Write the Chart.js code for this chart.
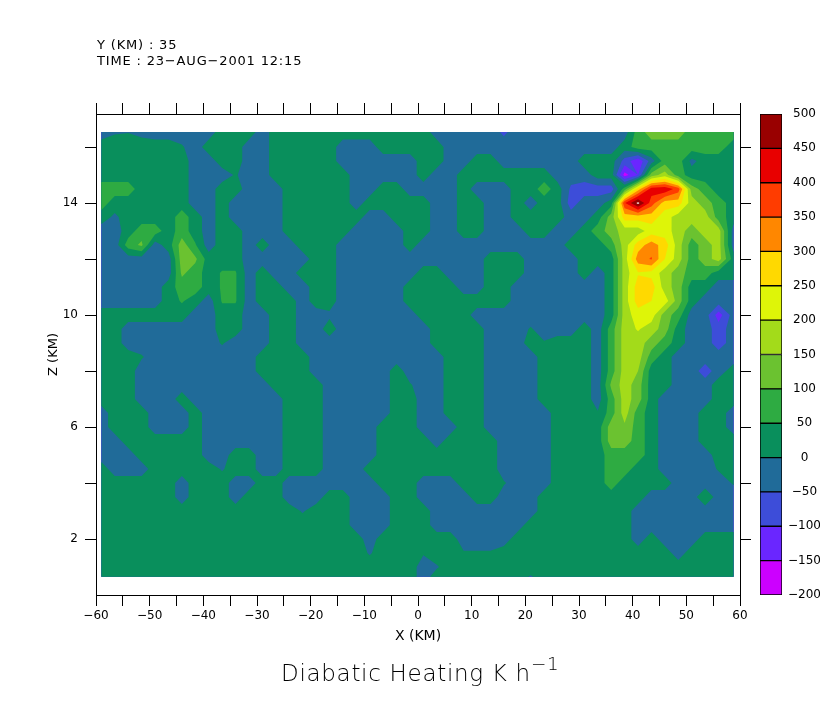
<!DOCTYPE html>
<html>
<head>
<meta charset="utf-8">
<title>Diabatic Heating</title>
<script src="https://cdn.jsdelivr.net/npm/chart.js@4"></script>
<style>
  html, body { margin: 0; padding: 0; background: #fff; overflow: hidden; }
  #page { position: relative; width: 820px; height: 709px; font-family: "DejaVu Sans", sans-serif; color: #000; }
  canvas { position: absolute; }
  .txt { position: absolute; white-space: nowrap; line-height: 1; }
  sup { font-size: 0.8em; line-height: 0; vertical-align: 0.6em; }
</style>
</head>
<body>
<div id="page">
  <canvas id="main" width="820" height="709" style="left:0;top:0"></canvas>
  <canvas id="bar" width="68" height="510" style="left:752px;top:100px"></canvas>
  <div class="txt" style="left:97px;top:38px;font-size:13px;letter-spacing:0.83px">Y (KM) : 35</div>
  <div class="txt" style="left:97px;top:54px;font-size:13px;letter-spacing:0.83px">TIME : 23−AUG−2001 12:15</div>
  <div class="txt" style="left:281px;top:662px;font-size:23px;letter-spacing:0.7px;font-weight:200">Diabatic Heating K h<sup>−1</sup></div>
</div>
<script>
const xKm = [-59,-56.5,-54,-51.5,-49,-46.5,-44,-41.5,-39,-36.5,-34,-31.5,-29,-26.5,-24,-21.5,-19,-16.5,-14,-11.5,-9,-6.5,-4,-1.5,1,3.5,6,8.5,11,13.5,16,18.5,21,23.5,26,28.5,31,33.5,36,38.5,41,43.5,46,48.5,51,53.5,56,58.8];
const zKm = [16.54,16,15.5,15,14.5,14,13.5,13,12.5,12,11.5,11,10.5,10,9.5,9,8.5,8,7.5,7,6.5,6,5.5,5,4.5,4,3.5,3,2.5,2,1.5,1,0.65];
const levels = [-200,-150,-100,-50,0,50,100,150,200,250,300,350,400,450,500];
const bandColors = ['#cc00ff','#6a26ff','#3d4dd9','#206b99','#098f5c','#2eab42','#6bc230','#a3db1a','#def508','#ffd900','#ff8700','#ff3c00','#e80000','#990000','#ffffff'];
const xTickLabels = [-60,-50,-40,-30,-20,-10,0,10,20,30,40,50,60];
const zTicks = [2,4,6,8,10,12,14,16];
const zTickLabels = [2,6,10,14];

// heating (K/h) at each grid node, one row per zKm, top row first
const heatRows = [
[-25,-5,-2,-15,-25,-25,-25,-25,-25,25,25,25,-25,25,25,25,25,25,25,25,25,25,25,25,25,-25,-25,-25,-25,-25,-60,-25,-25,-25,-25,-25,-25,-25,-25,-25,75,125,125,125,75,75,75,75],
[25,25,25,25,25,25,5,-25,25,25,25,-25,-25,25,25,25,25,25,-25,-25,-25,25,25,25,25,25,-25,-25,-25,-25,-25,-25,-25,-25,-25,-25,-25,-25,-25,25,75,75,75,75,75,75,75,25],
[25,25,25,25,25,25,25,-25,-25,25,25,-25,-25,25,25,25,25,25,-25,-25,-25,-25,-25,-25,25,25,-25,-25,25,25,-25,-25,-25,-25,-25,-25,25,25,25,-70,-140,-25,75,75,-15,25,25,25],
[25,25,25,25,25,25,25,-25,-25,-25,5,-25,-25,25,25,25,25,25,25,-25,-25,-25,-25,-25,25,-25,-25,25,25,25,25,25,25,25,-25,-25,-25,25,25,-170,-100,125,175,75,25,25,25,25],
[75,75,75,25,25,25,25,-25,-25,25,25,-25,-25,-25,25,25,25,25,25,-25,-25,25,25,-25,-25,-25,-25,25,-25,-25,-25,25,25,75,25,-60,-75,-75,-75,75,275,425,440,375,125,75,25,25],
[75,25,25,25,25,25,25,-25,-25,25,-25,-25,-25,-25,25,25,25,25,25,-25,25,25,25,25,25,-25,-25,25,25,-25,-25,25,-25,25,25,-75,-25,-25,25,395,515,375,275,275,175,125,75,25],
[25,-10,25,25,25,25,75,25,-25,25,-25,-25,-25,-25,25,25,25,25,25,25,-25,-25,25,25,25,-25,-25,25,25,-25,-25,25,25,25,25,-25,-25,25,125,275,275,275,225,175,175,175,75,25],
[-25,-25,25,75,75,25,75,25,-25,25,25,-25,-25,-25,25,25,25,25,25,-25,-25,-25,-25,25,25,-25,-25,25,25,-25,-25,-25,25,25,-25,-25,25,75,125,175,175,225,225,175,125,175,175,-25],
[-25,-25,75,110,-25,25,125,55,-25,25,25,-25,25,-25,-25,25,25,25,-25,-25,-25,-25,-25,25,-25,-25,-25,-25,-25,-25,-25,-25,-25,-25,-25,25,25,25,75,175,275,325,275,175,75,125,175,-25],
[-25,-25,-25,-25,-25,-25,125,110,25,25,25,-25,-25,-25,-25,-25,25,25,-25,-25,-25,-25,-25,-25,-25,-25,-25,-25,-25,25,25,25,-25,-25,-25,-25,25,25,25,175,325,355,250,175,75,125,175,25],
[-25,-25,-25,-25,-25,-25,110,75,25,55,55,-25,25,-25,-25,25,25,25,-25,-25,-25,-25,-25,-25,25,25,-25,-25,-25,25,25,25,-25,-25,-25,-25,25,-25,25,175,245,235,175,125,75,75,25,25],
[-25,-25,-25,-25,-25,25,75,75,25,55,55,-25,25,25,-25,-25,25,25,-25,-25,-25,-25,-25,25,25,25,25,-25,-25,25,25,-25,-25,-25,-25,-25,-25,-25,25,175,275,275,175,125,25,25,-25,-25],
[-25,-25,-25,-25,-25,25,55,25,-25,55,55,-25,25,25,25,-25,25,25,-25,-25,-25,-25,-25,25,25,25,25,25,25,25,25,-25,-25,-25,-25,-25,-25,-25,25,175,275,250,225,125,25,-25,-25,-25],
[25,25,25,25,25,25,25,-25,-25,25,25,-25,-25,25,25,-25,-25,-10,-25,-25,-25,-25,-25,-25,25,25,25,25,-25,-25,-25,-25,-25,-25,-25,-25,-25,-25,25,175,225,225,125,75,-25,-25,-125,-25],
[25,25,-25,-25,-25,-25,-25,-25,-25,25,25,-25,-25,25,25,-25,-25,25,-25,-25,-25,-25,-25,-25,-25,25,25,25,25,-25,-25,-25,5,-25,-25,-25,25,-25,75,175,205,175,125,25,-25,-25,-75,-25],
[25,25,-25,-25,-25,-25,-25,-25,-25,5,-25,-25,-25,25,25,-25,-25,-25,-25,-25,-25,-25,-25,-25,-25,25,25,25,25,-25,-25,-25,25,5,25,25,25,-25,75,175,175,125,75,25,-25,-25,-75,-25],
[25,25,25,5,-25,-25,-25,-25,-25,-25,-25,-25,25,25,25,25,-25,-25,-25,-25,-25,-25,-25,-25,-25,-25,25,25,25,-25,-25,-25,-25,25,25,25,25,-25,75,175,175,75,25,-25,-25,-25,-25,-25],
[25,25,25,-25,-25,-25,-25,-25,-25,-25,-25,-25,25,25,25,25,-25,-25,-25,-25,-25,-25,25,-25,-25,-25,25,25,25,-25,-25,-25,-25,25,25,25,25,-25,75,175,150,25,25,-25,-25,-75,-25,25],
[25,25,25,-25,-25,-25,-25,-25,-25,-25,-25,-25,-25,25,25,25,25,-25,-25,-25,-25,-25,25,5,-25,-25,25,25,25,-25,-25,-25,-25,25,25,25,25,-25,110,175,125,25,25,-25,-25,-25,25,25],
[25,25,25,-25,-25,-25,25,-25,-25,-25,-25,-25,-25,-25,25,25,25,-25,-25,-25,-25,-25,25,25,-25,-25,25,25,25,-25,-25,-25,-25,25,25,25,25,-25,75,175,125,25,-25,-25,-25,-25,25,25],
[-25,25,25,25,-25,-25,-25,25,-25,-25,-25,-25,-25,-25,25,25,25,-25,-25,-25,-25,-25,25,25,-25,-25,25,25,25,-25,-25,-25,-25,-25,25,25,25,5,75,175,75,25,-25,-25,-25,25,25,-25],
[-25,25,25,25,-25,-25,-25,25,-25,-25,-25,-25,-25,-25,25,25,25,-25,-25,-25,-25,25,25,25,-25,-25,-25,25,25,-25,-25,-25,-25,-25,25,25,25,25,125,140,75,25,-25,-25,-25,25,25,-25],
[-25,-25,25,25,25,25,25,25,-25,-25,-25,-25,-25,-25,25,25,25,-25,-25,-25,-25,25,25,25,25,-25,25,25,25,25,-25,-25,-25,-25,25,25,25,25,125,125,75,25,-25,-25,-25,25,25,25],
[-25,-25,-25,25,25,25,25,25,-25,-25,25,25,-25,-25,25,25,25,-25,-25,-25,-25,25,25,25,25,25,25,25,25,25,-25,-25,-25,-25,25,25,25,25,75,75,75,25,-25,-25,-25,-25,25,25],
[25,-25,-25,-25,25,25,25,25,25,-5,25,25,-25,-25,25,25,25,-25,-25,-25,25,25,25,25,25,25,25,25,25,25,-25,-25,-25,-25,25,25,25,25,75,75,25,25,-25,-25,-25,-25,5,25],
[25,25,25,25,25,25,-25,25,25,25,-25,-25,25,25,-25,-25,-25,-25,-25,-25,-25,25,25,25,-25,-25,-25,25,25,25,5,-25,-25,-25,25,25,25,25,75,25,25,25,25,-25,-25,-25,-25,5],
[25,25,25,25,25,25,-25,25,25,25,-25,25,25,25,-25,-25,-25,25,25,-25,-25,-25,25,25,-25,-25,-25,-25,25,25,-25,-25,-25,25,25,25,25,25,25,25,25,-25,-25,-25,-25,40,-25,-25],
[25,25,25,25,25,25,25,25,25,25,25,25,25,25,25,-5,25,25,25,-25,-25,-25,25,25,25,-25,-25,-25,-25,-25,-25,-25,-25,25,25,25,25,25,25,25,-25,-25,-25,-25,-25,-25,-25,-25],
[25,25,25,25,25,25,25,25,25,25,25,25,25,25,25,25,25,25,25,-25,-25,-25,25,25,25,-25,-25,-25,-25,-25,-25,-25,25,25,25,25,25,25,25,25,-25,-25,-25,-25,-25,-25,-25,-25],
[25,25,25,25,25,25,25,25,25,25,25,25,25,25,25,25,25,25,25,25,-25,25,25,25,25,25,25,-25,-25,-25,-25,25,25,25,25,25,25,25,25,25,-25,25,-25,-25,-25,25,25,25],
[25,25,25,25,25,25,25,25,25,25,25,25,25,25,25,25,25,25,25,25,-5,25,25,25,5,25,25,5,5,5,25,25,25,25,25,25,25,25,25,25,25,25,25,-25,25,25,25,25],
[25,25,25,25,25,25,25,25,25,25,25,25,25,25,25,25,25,25,25,25,25,25,25,25,-25,-5,25,25,25,25,25,25,25,25,25,25,25,25,25,25,25,25,25,25,25,25,25,25],
[25,25,25,25,25,25,25,25,25,25,25,25,25,25,25,25,25,25,25,25,25,25,25,25,-25,25,25,25,25,25,25,25,-5,25,25,25,25,25,25,25,25,25,25,25,25,25,25,25]
];

const fontFamily = '"DejaVu Sans", sans-serif';
Chart.defaults.font.family = fontFamily;
Chart.defaults.color = '#000';
Chart.defaults.animation = false;

function clipCell(corners, level) {
    const out = [];
    corners.forEach((a, i) => {
        const b = corners[(i + 1) % corners.length];
        if (a.v >= level) out.push(a);
        if ((a.v >= level) !== (b.v >= level)) {
            const t = (level - a.v) / (b.v - a.v);
            out.push({ x: a.x + t * (b.x - a.x), y: a.y + t * (b.y - a.y), v: level });
        }
    });
    return out;
}

// filled contour bands, painted low to high
const contourPlugin = {
    id: 'contourBands',
    beforeDatasetsDraw(chart) {
        const { ctx, scales } = chart;
        const node = (i, j) => ({ x: xKm[i], y: zKm[j], v: heatRows[j][i] });
        levels.forEach((level, k) => {
            ctx.beginPath();
            for (let j = 0; j < zKm.length - 1; j++) {
                for (let i = 0; i < xKm.length - 1; i++) {
                    const poly = clipCell([node(i, j), node(i + 1, j), node(i + 1, j + 1), node(i, j + 1)], level);
                    poly.forEach((p, n) => {
                        const px = scales.x.getPixelForValue(p.x);
                        const py = scales.y.getPixelForValue(p.y);
                        if (n === 0) ctx.moveTo(px, py); else ctx.lineTo(px, py);
                    });
                    if (poly.length) ctx.closePath();
                }
            }
            ctx.fillStyle = bandColors[k];
            ctx.fill();
        });
    }
};

const points = [];
zKm.forEach((z, j) => xKm.forEach((x, i) => points.push({ x: x, y: z, v: heatRows[j][i] })));

const minus = v => String(v).replace('-', '−');
const axisLine = { color: '#000', width: 1 };
const tickGrid = { drawOnChartArea: false, tickLength: 11, tickColor: '#000', tickWidth: 1 };

new Chart(document.getElementById('main'), {
    type: 'scatter',
    data: { datasets: [{ label: 'Diabatic Heating', data: points, pointRadius: 0, showLine: false }] },
    options: {
        responsive: false,
        layout: { padding: { left: 46, right: 68, top: 102, bottom: 64 } },
        plugins: { legend: { display: false }, tooltip: { enabled: false } },
        scales: {
            x: {
                type: 'linear', position: 'bottom', min: -60, max: 60,
                border: axisLine, grid: tickGrid,
                ticks: {
                    stepSize: 5, autoSkip: false, maxRotation: 0, padding: 3, font: { size: 12 },
                    callback: v => xTickLabels.includes(v) ? minus(v) : ''
                },
                title: { display: true, text: 'X (KM)', font: { size: 14 }, padding: 0 },
                afterFit: s => { s.height = 50; }
            },
            xTop: {
                type: 'linear', position: 'top', min: -60, max: 60,
                border: axisLine, grid: tickGrid,
                ticks: { stepSize: 5, autoSkip: false, callback: () => '' },
                afterFit: s => { s.height = 12; }
            },
            y: {
                type: 'linear', position: 'left', min: 0, max: 17.18,
                border: axisLine, grid: tickGrid,
                afterBuildTicks: s => { s.ticks = zTicks.map(v => ({ value: v })); },
                ticks: {
                    autoSkip: false, padding: 7, font: { size: 12 },
                    callback: v => zTickLabels.includes(v) ? v : ''
                },
                title: { display: true, text: 'Z (KM)', font: { size: 13 }, padding: 0 },
                afterFit: s => { s.width = 50; }
            },
            yRight: {
                type: 'linear', position: 'right', min: 0, max: 17.18,
                border: axisLine, grid: tickGrid,
                afterBuildTicks: s => { s.ticks = zTicks.map(v => ({ value: v })); },
                ticks: { autoSkip: false, callback: () => '' },
                afterFit: s => { s.width = 12; }
            }
        }
    },
    plugins: [contourPlugin]
});

// colour bar, one floating bar per band
new Chart(document.getElementById('bar'), {
    type: 'bar',
    data: {
        labels: [''],
        datasets: levels.slice(0, -1).map((lo, k) => ({
            label: String(lo),
            data: [[lo, levels[k + 1]]],
            backgroundColor: bandColors[k],
            borderColor: '#000',
            borderWidth: 1,
            borderSkipped: false,
            barPercentage: 1,
            categoryPercentage: 1
        }))
    },
    options: {
        responsive: false,
        layout: { padding: { left: 8, top: 14, bottom: 15, right: 0 } },
        plugins: { legend: { display: false }, tooltip: { enabled: false } },
        scales: {
            x: { stacked: true, display: false },
            y: {
                position: 'right', min: -200, max: 500,
                border: { display: false },
                grid: { display: false, drawTicks: false },
                afterBuildTicks: s => { s.ticks = levels.map(v => ({ value: v })); },
                ticks: {
                    autoSkip: false, padding: 6, crossAlign: 'center', font: { size: 12 },
                    callback: v => minus(v)
                },
                afterFit: s => { s.width = 38; }
            }
        }
    }
});
</script>
</body>
</html>
